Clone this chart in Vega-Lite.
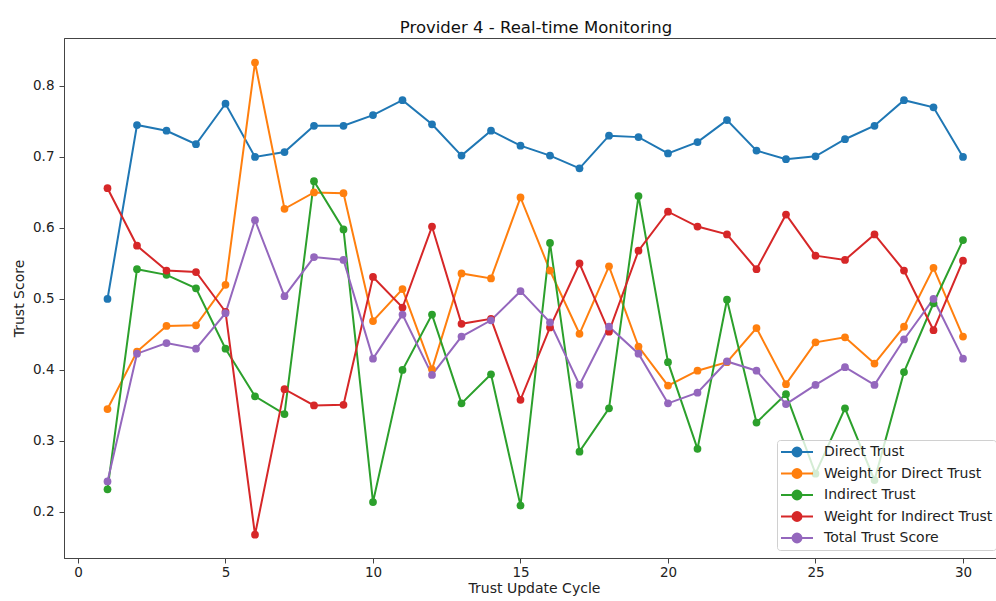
{
  "$schema": "https://vega.github.io/schema/vega-lite/v6.json",
  "autosize": {"type": "none"},
  "padding": {"left": 64, "top": 38, "right": 0, "bottom": 43},
  "width": 940,
  "height": 520,
  "background": "white",
  "title": {"text": "Provider 4 - Real-time Monitoring", "font": "DejaVu Sans", "fontSize": 16.5, "fontWeight": "normal", "color": "#111", "offset": 2, "anchor": "middle", "dx": 2},
  "data": {"values": [
    {"cycle": 1, "Direct Trust": 0.500, "Weight for Direct Trust": 0.345, "Indirect Trust": 0.232, "Weight for Indirect Trust": 0.656, "Total Trust Score": 0.243},
    {"cycle": 2, "Direct Trust": 0.745, "Weight for Direct Trust": 0.426, "Indirect Trust": 0.542, "Weight for Indirect Trust": 0.575, "Total Trust Score": 0.423},
    {"cycle": 3, "Direct Trust": 0.737, "Weight for Direct Trust": 0.462, "Indirect Trust": 0.534, "Weight for Indirect Trust": 0.540, "Total Trust Score": 0.438},
    {"cycle": 4, "Direct Trust": 0.718, "Weight for Direct Trust": 0.463, "Indirect Trust": 0.515, "Weight for Indirect Trust": 0.538, "Total Trust Score": 0.430},
    {"cycle": 5, "Direct Trust": 0.775, "Weight for Direct Trust": 0.520, "Indirect Trust": 0.430, "Weight for Indirect Trust": 0.482, "Total Trust Score": 0.480},
    {"cycle": 6, "Direct Trust": 0.700, "Weight for Direct Trust": 0.833, "Indirect Trust": 0.363, "Weight for Indirect Trust": 0.168, "Total Trust Score": 0.611},
    {"cycle": 7, "Direct Trust": 0.707, "Weight for Direct Trust": 0.627, "Indirect Trust": 0.338, "Weight for Indirect Trust": 0.373, "Total Trust Score": 0.504},
    {"cycle": 8, "Direct Trust": 0.744, "Weight for Direct Trust": 0.650, "Indirect Trust": 0.666, "Weight for Indirect Trust": 0.350, "Total Trust Score": 0.559},
    {"cycle": 9, "Direct Trust": 0.744, "Weight for Direct Trust": 0.649, "Indirect Trust": 0.598, "Weight for Indirect Trust": 0.351, "Total Trust Score": 0.555},
    {"cycle": 10, "Direct Trust": 0.759, "Weight for Direct Trust": 0.469, "Indirect Trust": 0.214, "Weight for Indirect Trust": 0.531, "Total Trust Score": 0.416},
    {"cycle": 11, "Direct Trust": 0.780, "Weight for Direct Trust": 0.514, "Indirect Trust": 0.400, "Weight for Indirect Trust": 0.488, "Total Trust Score": 0.478},
    {"cycle": 12, "Direct Trust": 0.746, "Weight for Direct Trust": 0.401, "Indirect Trust": 0.478, "Weight for Indirect Trust": 0.602, "Total Trust Score": 0.393},
    {"cycle": 13, "Direct Trust": 0.702, "Weight for Direct Trust": 0.536, "Indirect Trust": 0.353, "Weight for Indirect Trust": 0.465, "Total Trust Score": 0.447},
    {"cycle": 14, "Direct Trust": 0.737, "Weight for Direct Trust": 0.529, "Indirect Trust": 0.394, "Weight for Indirect Trust": 0.472, "Total Trust Score": 0.470},
    {"cycle": 15, "Direct Trust": 0.716, "Weight for Direct Trust": 0.643, "Indirect Trust": 0.209, "Weight for Indirect Trust": 0.358, "Total Trust Score": 0.511},
    {"cycle": 16, "Direct Trust": 0.702, "Weight for Direct Trust": 0.540, "Indirect Trust": 0.579, "Weight for Indirect Trust": 0.460, "Total Trust Score": 0.467},
    {"cycle": 17, "Direct Trust": 0.684, "Weight for Direct Trust": 0.451, "Indirect Trust": 0.285, "Weight for Indirect Trust": 0.550, "Total Trust Score": 0.379},
    {"cycle": 18, "Direct Trust": 0.730, "Weight for Direct Trust": 0.546, "Indirect Trust": 0.346, "Weight for Indirect Trust": 0.454, "Total Trust Score": 0.461},
    {"cycle": 19, "Direct Trust": 0.728, "Weight for Direct Trust": 0.433, "Indirect Trust": 0.645, "Weight for Indirect Trust": 0.568, "Total Trust Score": 0.423},
    {"cycle": 20, "Direct Trust": 0.705, "Weight for Direct Trust": 0.378, "Indirect Trust": 0.411, "Weight for Indirect Trust": 0.623, "Total Trust Score": 0.353},
    {"cycle": 21, "Direct Trust": 0.721, "Weight for Direct Trust": 0.399, "Indirect Trust": 0.289, "Weight for Indirect Trust": 0.602, "Total Trust Score": 0.368},
    {"cycle": 22, "Direct Trust": 0.752, "Weight for Direct Trust": 0.411, "Indirect Trust": 0.499, "Weight for Indirect Trust": 0.591, "Total Trust Score": 0.412},
    {"cycle": 23, "Direct Trust": 0.709, "Weight for Direct Trust": 0.459, "Indirect Trust": 0.326, "Weight for Indirect Trust": 0.542, "Total Trust Score": 0.399},
    {"cycle": 24, "Direct Trust": 0.697, "Weight for Direct Trust": 0.380, "Indirect Trust": 0.366, "Weight for Indirect Trust": 0.619, "Total Trust Score": 0.352},
    {"cycle": 25, "Direct Trust": 0.701, "Weight for Direct Trust": 0.439, "Indirect Trust": 0.254, "Weight for Indirect Trust": 0.561, "Total Trust Score": 0.379},
    {"cycle": 26, "Direct Trust": 0.725, "Weight for Direct Trust": 0.446, "Indirect Trust": 0.346, "Weight for Indirect Trust": 0.555, "Total Trust Score": 0.404},
    {"cycle": 27, "Direct Trust": 0.744, "Weight for Direct Trust": 0.409, "Indirect Trust": 0.245, "Weight for Indirect Trust": 0.591, "Total Trust Score": 0.379},
    {"cycle": 28, "Direct Trust": 0.780, "Weight for Direct Trust": 0.461, "Indirect Trust": 0.397, "Weight for Indirect Trust": 0.540, "Total Trust Score": 0.443},
    {"cycle": 29, "Direct Trust": 0.770, "Weight for Direct Trust": 0.544, "Indirect Trust": 0.494, "Weight for Indirect Trust": 0.456, "Total Trust Score": 0.500},
    {"cycle": 30, "Direct Trust": 0.700, "Weight for Direct Trust": 0.447, "Indirect Trust": 0.583, "Weight for Indirect Trust": 0.554, "Total Trust Score": 0.416}
  ]},
  "transform": [
    {"fold": ["Direct Trust", "Weight for Direct Trust", "Indirect Trust", "Weight for Indirect Trust", "Total Trust Score"], "as": ["series", "value"]}
  ],
  "encoding": {
    "x": {"field": "cycle", "type": "quantitative", "scale": {"domain": [-0.4746, 31.39], "nice": false, "zero": false},
      "axis": {"title": "Trust Update Cycle", "values": [0, 5, 10, 15, 20, 25, 30], "grid": false, "tickSize": 5, "labelPadding": 2, "titlePadding": 3}},
    "y": {"field": "value", "type": "quantitative", "scale": {"domain": [0.1352, 0.8676], "nice": false, "zero": false},
      "axis": {"title": "Trust Score", "values": [0.2, 0.3, 0.4, 0.5, 0.6, 0.7, 0.8], "format": ".1f", "grid": false, "tickSize": 5, "labelPadding": 5, "titlePadding": 6}},
    "color": {"field": "series", "type": "nominal",
      "scale": {"domain": ["Direct Trust", "Weight for Direct Trust", "Indirect Trust", "Weight for Indirect Trust", "Total Trust Score"], "range": ["#1f77b4", "#ff7f0e", "#2ca02c", "#d62728", "#9467bd"]},
      "legend": {"title": null, "orient": "none", "legendX": 713, "legendY": 402,
        "symbolType": "M-1,0H3M0.44,0A0.56,0.56 0 1,0 1.56,0A0.56,0.56 0 1,0 0.44,0Z",
        "symbolSize": 256, "symbolStrokeWidth": 2, "labelFontSize": 14, "labelFont": "DejaVu Sans", "labelColor": "#222", "labelLimit": 400,
        "rowPadding": 3.5, "labelOffset": 26, "padding": 3, "fillColor": "rgba(255,255,255,0.8)", "strokeColor": "#d0d0d0", "cornerRadius": 3,
        "encode": {"symbols": {"update": {"fill": {"scale": "color", "field": "value"}, "stroke": {"scale": "color", "field": "value"}, "strokeWidth": {"value": 2}, "opacity": {"value": 1}}}}}
    }
  },
  "layer": [
    {"mark": {"type": "line", "strokeWidth": 2}},
    {"mark": {"type": "point", "filled": true, "size": 60, "opacity": 1, "shape": "circle"}}
  ],
  "config": {
    "view": {"stroke": "#444", "strokeWidth": 1},
    "axis": {"labelFont": "DejaVu Sans", "titleFont": "DejaVu Sans", "labelFontSize": 13.5, "titleFontSize": 14, "titleFontWeight": "normal", "labelColor": "#222", "titleColor": "#222", "domainColor": "#444", "tickColor": "#444"}
  }
}
